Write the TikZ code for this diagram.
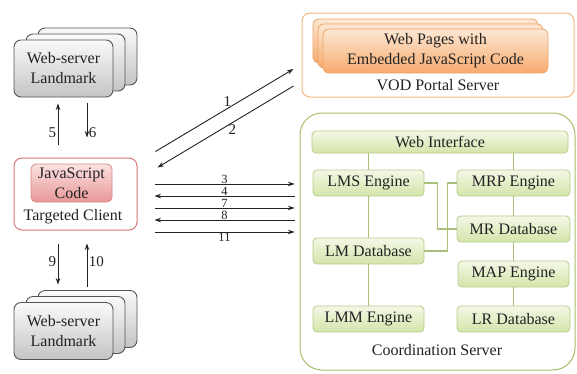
\documentclass[tikz,border=0pt]{standalone}
\usepackage{fontspec}
\setmainfont{Liberation Serif}
\usetikzlibrary{arrows.meta, positioning, calc}

\definecolor{lmkedge}{RGB}{85,85,85}
\definecolor{lmktop}{RGB}{250,250,250}
\definecolor{lmkbot}{RGB}{196,196,196}
\definecolor{cliedge}{RGB}{214,120,120}
\definecolor{jstop}{RGB}{252,226,226}
\definecolor{jsbot}{RGB}{232,150,150}
\definecolor{jsedge}{RGB}{216,136,136}
\definecolor{vodedge}{RGB}{243,182,127}
\definecolor{pgtop}{RGB}{253,232,212}
\definecolor{pgbot}{RGB}{247,170,110}
\definecolor{pgedge}{RGB}{234,165,106}
\definecolor{coedge}{RGB}{166,191,106}
\definecolor{cbtop}{RGB}{244,248,230}
\definecolor{cbbot}{RGB}{212,228,170}
\definecolor{cbedge}{RGB}{185,204,140}
\definecolor{cline}{RGB}{169,192,122}
\definecolor{ink}{RGB}{34,34,34}

\tikzset{
  txt/.style={text=ink, font=\fontsize{16}{20}\selectfont, align=center, inner sep=1pt},
  num/.style={text=ink, font=\fontsize{15}{15}\selectfont, inner sep=1.5pt},
  hnum/.style={text=ink, font=\fontsize{12.5}{12.5}\selectfont, inner sep=0pt},
  lmkbox/.style={draw=lmkedge, line width=0.9pt, rounded corners=7pt, top color=lmktop, bottom color=lmkbot,
    minimum width=99pt, minimum height=57pt, txt},
  clientbox/.style={draw=cliedge, line width=1pt, rounded corners=8pt, fill=white, minimum width=123pt, minimum height=72pt},
  jsbox/.style={draw=jsedge, line width=0.8pt, rounded corners=5pt, top color=jstop, bottom color=jsbot,
    minimum width=81pt, minimum height=38pt, txt, inner sep=0pt},
  vodbox/.style={draw=vodedge, line width=1pt, rounded corners=8pt, fill=white, minimum width=272pt, minimum height=84pt},
  pagebox/.style={draw=pgedge, line width=0.8pt, rounded corners=6pt, top color=pgtop, bottom color=pgbot,
    minimum width=225pt, minimum height=44pt, txt, inner sep=0pt},
  coordbox/.style={draw=coedge, line width=1pt, rounded corners=22pt, fill=white, minimum width=275pt, minimum height=257pt},
  cbox/.style={draw=cbedge, line width=0.8pt, rounded corners=4pt, top color=cbtop, bottom color=cbbot,
    minimum width=111pt, minimum height=26pt, txt},
  cconn/.style={draw=cline, line width=1.1pt},
  arr/.style={draw=ink, line width=0.9pt}
}

\begin{document}
\begin{tikzpicture}[x=1pt,y=-1pt,>={Stealth[length=6.5pt,width=4.5pt]}]
  \useasboundingbox (0,0) rectangle (577,373);

  %Shape: Landmark stack (top)
  \node[lmkbox] (lmtopc) at (87.5,56.5) {};
  \node[lmkbox] (lmtopb) at (75.5,62.5) {};
  \node[lmkbox] (lmtop) at (63.5,68.5) {Web-server\\Landmark};

  %Shape: Targeted client
  \node[clientbox] (client) at (75.5,194) {};
  \node[jsbox] (js) at (71.5,183) {JavaScript\\Code};
  % Text Node
  \node[txt] (clientlbl) at (73,217) {Targeted Client};

  %Shape: Landmark stack (bottom)
  \node[lmkbox] (lmbotc) at (87.5,319) {};
  \node[lmkbox] (lmbotb) at (75.5,325) {};
  \node[lmkbox] (lmbot) at (63.5,331) {Web-server\\Landmark};

  %Shape: VOD portal server
  \node[vodbox] (vod) at (438,55) {};
  \node[pagebox] (pagec) at (425.5,41) {};
  \node[pagebox] (pageb) at (430.5,46) {};
  \node[pagebox] (page) at (435.5,51) {Web Pages with\\Embedded JavaScript Code};
  % Text Node
  \node[txt] (vodlbl) at (438,85) {VOD Portal Server};

  %Shape: Coordination server
  \node[coordbox] (coord) at (437.5,241.5) {};
  \node[cbox, minimum width=256pt, minimum height=22pt] (webif) at (440,142) {Web Interface};
  \node[cbox] (lms) at (368.5,183) {LMS Engine};
  \node[cbox, minimum width=113pt] (mrp) at (513.5,183) {MRP Engine};
  \node[cbox, minimum width=113pt] (mrdb) at (513.5,229) {MR Database};
  \node[cbox] (lmdb) at (368.5,251) {LM Database};
  \node[cbox] (map) at (513.5,274) {MAP Engine};
  \node[cbox] (lmm) at (368.5,319) {LMM Engine};
  \node[cbox, minimum width=113pt] (lr) at (513.5,319) {LR Database};
  % Text Node
  \node[txt] (coordlbl) at (437,350) {Coordination Server};

  %Straight Lines: inside coordination server
  \draw[cconn] (webif.south -| lms.north) -- (lms.north);
  \draw[cconn] (webif.south -| mrp.north) -- (mrp.north);
  \draw[cconn] (lms) -- (lmdb);
  \draw[cconn] (lmdb) -- (lmm);
  \draw[cconn] (mrp) -- (mrdb);
  \draw[cconn] (mrdb) -- (map);
  \draw[cconn] (map) -- (lr);
  \draw[cconn] (lms.east) -- ++(13,0) |- (mrdb.west);
  \draw[cconn] (lmdb.east) -- ++(23,0) |- (mrp.west);

  %Arrows: landmarks
  \draw[arr,->] ($(client.north)+(-17.5,-13)$) -- ($(lmtop.south)+(-5.5,6)$) node[num,pos=0.3,left] {5};
  \draw[arr,->] ($(lmtop.south)+(23.5,6)$) -- ($(client.north)+(11.5,-20)$) node[num,pos=0.85,right] {6};
  \draw[arr,->] ($(client.south)+(-17.5,13)$) -- ($(lmbot.north)+(-5.5,-17.5)$) node[num,pos=0.45,left] {9};
  \draw[arr,->] ($(lmbot.north)+(23.5,-15.5)$) -- ($(client.south)+(11.5,13)$) node[num,pos=0.57,right] {10};

  %Arrows: portal
  \draw[arr,->] ($(client.north east)+(18,-6)$) -- ($(vod.west)+(-8,14)$) node[num,pos=0.52,above] {1};
  \draw[arr,->] ($(vod.west)+(-8,31)$) -- ($(client.north east)+(20,10)$) node[num,pos=0.45,below] {2};

  %Arrows: coordination
  \draw[arr,->] ($(client.east)+(17,-10)$) -- ($(client.east -| coord.west)+(-5,-10)$) node[hnum,midway,above] {3};
  \draw[arr,<-] ($(client.east)+(17,2)$) -- ($(client.east -| coord.west)+(-5,2)$) node[hnum,midway,above] {4};
  \draw[arr,->] ($(client.east)+(17,14)$) -- ($(client.east -| coord.west)+(-5,14)$) node[hnum,midway,above] {7};
  \draw[arr,<-] ($(client.east)+(17,26)$) -- ($(client.east -| coord.west)+(-5,26)$) node[hnum,midway,above] {8};
  \draw[arr,->] ($(client.east)+(17,38)$) -- ($(client.east -| coord.west)+(-5,38)$) node[hnum,midway,below,inner sep=1pt] {11};
\end{tikzpicture}
\end{document}
